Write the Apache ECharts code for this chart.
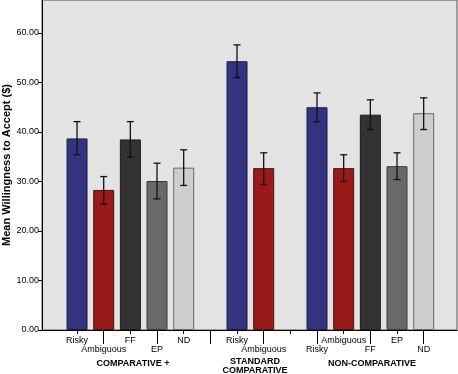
<!DOCTYPE html>
<html><head><meta charset="utf-8">
<script src="https://cdn.jsdelivr.net/npm/echarts@6/dist/echarts.min.js"></script>
<style>html,body{margin:0;padding:0;background:#fff}#c{width:458px;height:374px}</style>
</head><body><div id="c"></div>
<script>
const categories = ['Risky','Ambiguous','FF','EP','ND','','Risky','Ambiguous','','Risky','Ambiguous','FF','EP','ND'];
const means = [38.7, 28.3, 38.5, 30.1, 32.8, null, 54.3, 32.7, null, 45.0, 32.7, 43.5, 33.1, 43.8];
const errLow = [35.4, 25.4, 34.9, 26.5, 29.2, null, 51.0, 29.4, null, 42.1, 30.0, 40.5, 30.4, 40.5];
const errHigh = [42.1, 31.0, 42.1, 33.7, 36.4, null, 57.6, 35.8, null, 47.9, 35.4, 46.5, 35.8, 46.9];
const groupLabels = ['COMPARATIVE +', 'STANDARD\nCOMPARATIVE', 'NON-COMPARATIVE'];
const yTicks = [0, 10, 20, 30, 40, 50, 60];
const yMax = 66.67;

const fillColors = {Risky:'#333380', Ambiguous:'#9a1a1a', FF:'#333333', EP:'#696969', ND:'#cecece'};
const borderColors = {Risky:'#1e1e4a', Ambiguous:'#4a1010', FF:'#1a1a1a', EP:'#3a3a3a', ND:'#666666'};
const FONT = 'Liberation Sans, Arial, sans-serif';

const barData = means.map((v, i) => v == null ? null : {
  value: v,
  itemStyle: {color: fillColors[categories[i]], borderColor: borderColors[categories[i]], borderWidth: 1}
});
const errData = [];
means.forEach((v, i) => { if (v != null) errData.push([i, errLow[i], errHigh[i]]); });

const chart = echarts.init(document.getElementById('c'), null, {renderer: 'canvas'});
chart.setOption({
  animation: false,
  grid: [
    {left: 42, top: 0, width: 415, height: 330, outerBoundsMode: 'none', containLabel: false, show: true, backgroundColor: '#e3e3e3', borderColor: '#555', borderWidth: 1},
    {left: 63.7, top: 0, width: 373.3, height: 330, outerBoundsMode: 'none', containLabel: false}
  ],
  xAxis: [
    {type: 'value', gridIndex: 0, min: 0, max: 1, axisLine: {show: true, lineStyle: {color: '#000', width: 1}}, axisTick: {show: false}, axisLabel: {show: false}, splitLine: {show: false}},
    {type: 'category', gridIndex: 1, data: categories, position: 'bottom',
      axisLine: {show: false},
      axisTick: {show: true, alignWithLabel: true, length: 4, lineStyle: {color: '#000'}, interval: (i) => i % 2 === 0},
      axisLabel: {interval: 0, margin: 6, fontFamily: FONT, fontSize: 9, color: '#000', lineHeight: 9,
        formatter: (v, i) => (i % 2 === 1 ? '\n' + v : v)},
      splitLine: {show: false}},
    {type: 'category', gridIndex: 1, data: categories, position: 'bottom',
      axisLine: {show: false},
      axisTick: {show: true, alignWithLabel: true, length: 14, lineStyle: {color: '#000'}, interval: (i) => i % 2 === 1},
      axisLabel: {show: false}, splitLine: {show: false}}
  ],
  yAxis: [
    {type: 'value', gridIndex: 0, min: 0, max: yMax, interval: 10,
      name: 'Mean Willingness to Accept ($)', nameLocation: 'middle', nameGap: 30, nameMoveOverlap: false,
      nameTextStyle: {fontFamily: FONT, fontSize: 11, fontWeight: 'bold', color: '#000'},
      axisLine: {show: true, lineStyle: {color: '#000'}},
      axisTick: {show: true, length: 4, lineStyle: {color: '#000'}},
      axisLabel: {fontFamily: FONT, fontSize: 9, color: '#000', margin: 3, showMaxLabel: false,
        formatter: (v) => yTicks.indexOf(v) >= 0 ? v.toFixed(2) : ''},
      splitLine: {show: false}},
    {type: 'value', gridIndex: 1, min: 0, max: yMax, show: false}
  ],
  series: [
    {type: 'bar', xAxisIndex: 1, yAxisIndex: 1, data: barData, barWidth: 21},
    {type: 'custom', xAxisIndex: 1, yAxisIndex: 1, data: errData, z: 10,
      renderItem: function (params, api) {
        const x = api.value(0);
        const lo = api.coord([x, api.value(1)]);
        const hi = api.coord([x, api.value(2)]);
        const hw = 3.5;
        const st = {stroke: '#111', lineWidth: 1.3};
        return {type: 'group', children: [
          {type: 'line', shape: {x1: lo[0], y1: lo[1], x2: hi[0], y2: hi[1]}, style: st},
          {type: 'line', shape: {x1: lo[0] - hw, y1: lo[1], x2: lo[0] + hw, y2: lo[1]}, style: st},
          {type: 'line', shape: {x1: hi[0] - hw, y1: hi[1], x2: hi[0] + hw, y2: hi[1]}, style: st}
        ]};
      }}
  ],
  graphic: [
    {type: 'text', x: 133, y: 364, style: {text: groupLabels[0], font: 'bold 9px ' + FONT, fill: '#000', align: 'center', verticalAlign: 'middle'}},
    {type: 'text', x: 255, y: 366.5, style: {text: groupLabels[1], font: 'bold 9px ' + FONT, fill: '#000', align: 'center', verticalAlign: 'middle', lineHeight: 9}},
    {type: 'text', x: 372, y: 364, style: {text: groupLabels[2], font: 'bold 9px ' + FONT, fill: '#000', align: 'center', verticalAlign: 'middle'}}
  ]
});
</script></body></html>
